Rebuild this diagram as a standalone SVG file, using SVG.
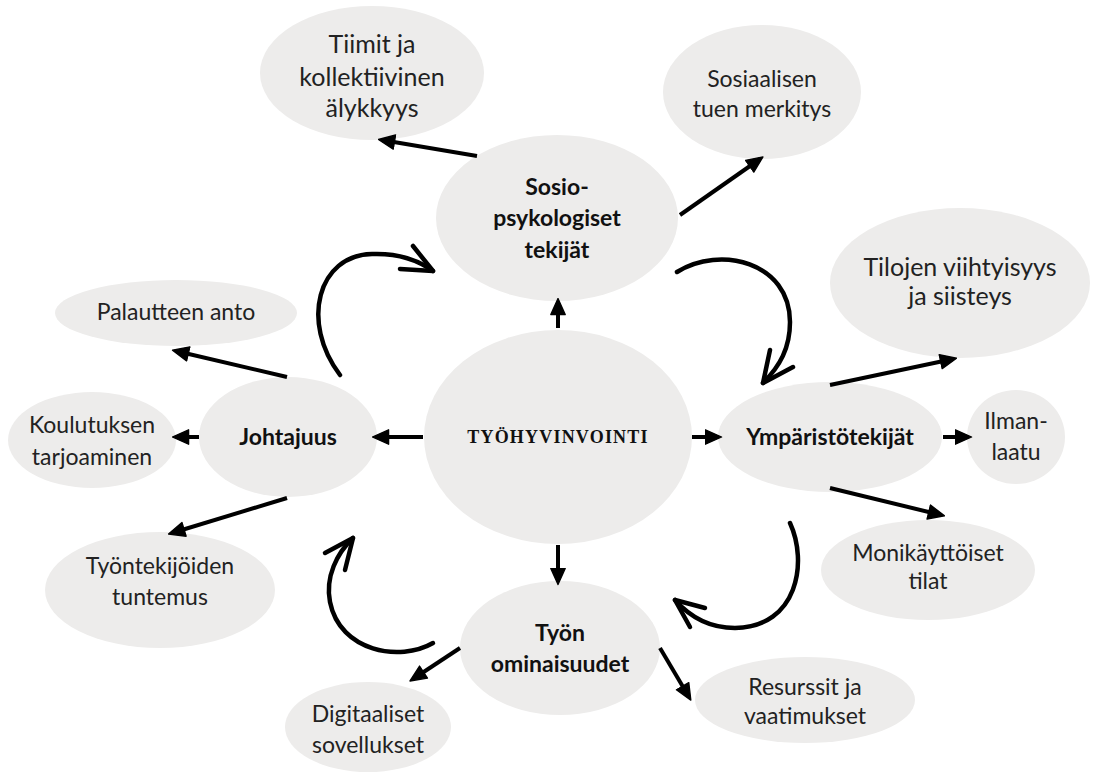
<svg xmlns="http://www.w3.org/2000/svg" width="1095" height="774" viewBox="0 0 1095 774">
<style>
.n{fill:#edeceb}
.t{font-family:Lato,"Open Sans",sans-serif;font-size:23px;fill:#222;text-anchor:middle}
.l{font-size:25px}
.b{font-weight:bold;fill:#111}
.c{font-family:"Liberation Serif","DejaVu Serif",serif;font-weight:bold;font-size:18px;letter-spacing:1.2px;fill:#111;text-anchor:middle}
.s{stroke:#000;stroke-width:4;fill:none;marker-end:url(#ah)}
.cv{stroke:#000;stroke-width:4.5;fill:none;stroke-linecap:round;stroke-linejoin:round}
</style>
<defs>
<marker id="ah" markerUnits="userSpaceOnUse" viewBox="0 0 20 20" markerWidth="18" markerHeight="18" refX="15" refY="10" orient="auto">
<path d="M1,2 L19,10 L1,18 Z" fill="#000" stroke="#000" stroke-width="1.5" stroke-linejoin="round"/>
</marker>
</defs>
<rect width="1095" height="774" fill="#fff"/>
<g id="center"><ellipse class="n" cx="558" cy="437" rx="134" ry="107"/><text class="c" x="558" y="443">TYÖHYVINVOINTI</text></g>
<g id="sosio"><ellipse class="n" cx="557" cy="218" rx="121" ry="83"/><text class="t b" x="557" y="195">Sosio-</text><text class="t b" x="557" y="226">psykologiset</text><text class="t b" x="557" y="258">tekijät</text></g>
<g id="tiimit"><ellipse class="n" cx="372" cy="73" rx="112" ry="67"/><text class="t l" x="372" y="53">Tiimit ja</text><text class="t l" x="372" y="86">kollektiivinen</text><text class="t l" x="372" y="117">älykkyys</text></g>
<g id="sosiaalisen"><ellipse class="n" cx="762" cy="92" rx="99" ry="67"/><text class="t" x="762" y="87">Sosiaalisen</text><text class="t" x="762" y="117">tuen merkitys</text></g>
<g id="palautteen"><ellipse class="n" cx="176" cy="313" rx="121" ry="33"/><text class="t" x="176" y="320">Palautteen anto</text></g>
<g id="koulutuksen"><ellipse class="n" cx="92" cy="440" rx="84" ry="48"/><text class="t" x="92" y="433">Koulutuksen</text><text class="t" x="92" y="465">tarjoaminen</text></g>
<g id="johtajuus"><ellipse class="n" cx="288" cy="437" rx="89" ry="60"/><text class="t b" x="288" y="445">Johtajuus</text></g>
<g id="tyontekijoiden"><ellipse class="n" cx="160" cy="590" rx="115" ry="58"/><text class="t" x="160" y="574">Työntekijöiden</text><text class="t" x="160" y="605">tuntemus</text></g>
<g id="tyon"><ellipse class="n" cx="560" cy="648" rx="100" ry="67"/><text class="t b" x="560" y="641">Työn</text><text class="t b" x="560" y="672">ominaisuudet</text></g>
<g id="digitaaliset"><ellipse class="n" cx="368" cy="727" rx="83" ry="45"/><text class="t" x="368" y="722">Digitaaliset</text><text class="t" x="368" y="753">sovellukset</text></g>
<g id="resurssit"><ellipse class="n" cx="805" cy="700" rx="110" ry="43"/><text class="t" x="805" y="695">Resurssit ja</text><text class="t" x="805" y="724">vaatimukset</text></g>
<g id="monikayttoiset"><ellipse class="n" cx="928" cy="570" rx="107" ry="50"/><text class="t" x="928" y="561">Monikäyttöiset</text><text class="t" x="928" y="589">tilat</text></g>
<g id="ymparisto"><ellipse class="n" cx="830" cy="437" rx="112" ry="55"/><text class="t b" x="830" y="445">Ympäristötekijät</text></g>
<g id="ilmanlaatu"><ellipse class="n" cx="1016" cy="437" rx="49" ry="47"/><text class="t" x="1016" y="429">Ilman-</text><text class="t" x="1016" y="460">laatu</text></g>
<g id="tilojen"><ellipse class="n" cx="960" cy="283" rx="130" ry="75"/><text class="t l" x="960" y="276">Tilojen viihtyisyys</text><text class="t l" x="960" y="305">ja siisteys</text></g>
<g id="connectors">
<line class="s" x1="477" y1="156" x2="382" y2="140"/>
<line class="s" x1="680" y1="215" x2="760" y2="159"/>
<line class="s" x1="558" y1="328" x2="558" y2="302"/>
<line class="s" x1="423" y1="437" x2="376" y2="437"/>
<line class="s" x1="692" y1="437" x2="718" y2="437"/>
<line class="s" x1="558" y1="545" x2="558" y2="581"/>
<line class="s" x1="287" y1="377" x2="176" y2="351"/>
<line class="s" x1="199" y1="437" x2="176" y2="437"/>
<line class="s" x1="287" y1="498" x2="172" y2="533"/>
<line class="s" x1="830" y1="385" x2="953" y2="359"/>
<line class="s" x1="943" y1="437" x2="968" y2="437"/>
<line class="s" x1="830" y1="488" x2="941" y2="515"/>
<line class="s" x1="460" y1="648" x2="413" y2="679"/>
<line class="s" x1="660" y1="648" x2="689" y2="697"/>
<path class="cv" d="M340,375 C300,322 318,255 372,254 C398,253 418,260 433,271"/>
<path class="cv" d="M400,269 L433,271 L413,246"/>
<path class="cv" d="M677,272 C720,245 790,262 790,322 C790,348 780,366 763,383"/>
<path class="cv" d="M770,350 L763,383 L793,367"/>
<path class="cv" d="M790,523 C808,562 798,627 735,628 C710,628 690,617 675,600"/>
<path class="cv" d="M705,608 L675,600 L690,627"/>
<path class="cv" d="M433,643 C400,662 340,652 330,602 C325,577 337,553 353,538"/>
<path class="cv" d="M325,553 L353,538 L345,570"/>
</g>
</svg>
